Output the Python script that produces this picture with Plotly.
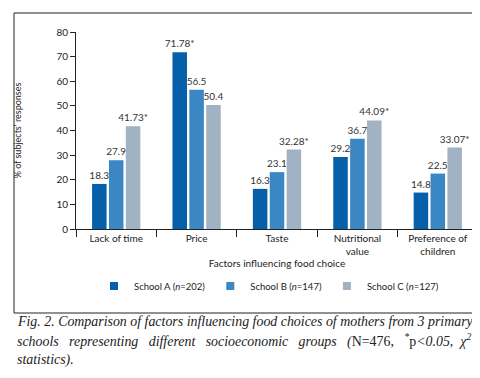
import plotly.graph_objects as go

categories = ["Lack of time", "Price", "Taste", "Nutritional<br>value", "Preference of<br>children"]
school_a = [18.3, 71.78, 16.3, 29.2, 14.8]
school_b = [27.9, 56.5, 23.1, 36.7, 22.5]
school_c = [41.73, 50.4, 32.28, 44.09, 33.07]
sig_a = [False, True, False, False, False]
sig_b = [False, False, False, False, False]
sig_c = [True, False, True, True, True]
series_names = ["School A (<i>n</i>=202)", "School B (<i>n</i>=147)", "School C (<i>n</i>=127)"]
colors = ["#0660a9", "#3b87c3", "#a1b3c3"]
y_ticks = [0, 10, 20, 30, 40, 50, 60, 70, 80]

def labels(vals, sig):
    out = []
    for v, s in zip(vals, sig):
        t = f"{v:g}" if v * 10 == int(round(v * 10)) else f"{v:.2f}"
        out.append(t + ("*" if s else ""))
    return out

FONT = "Lato, Open Sans, sans-serif"
fig = go.Figure()
for vals, sig, name, col in zip([school_a, school_b, school_c], [sig_a, sig_b, sig_c], series_names, colors):
    fig.add_trace(go.Bar(
        x=categories, y=vals, name=name, marker_color=col, marker_line_width=0,
        text=labels(vals, sig), textposition="outside", cliponaxis=False,
        constraintext="none", showlegend=False,
        textfont=dict(size=10, color="#333333", family=FONT),
    ))
# legend entries with small square swatches
for name, col in zip(series_names, colors):
    fig.add_trace(go.Scatter(
        x=[None], y=[None], mode="markers", name=name,
        marker=dict(symbol="square", size=8, color=col), showlegend=True,
    ))

fig.update_layout(
    width=480, height=378,
    margin=dict(l=68, r=10, t=24, b=157),
    paper_bgcolor="white", plot_bgcolor="white",
    barmode="group", bargap=0.37, bargroupgap=0.14,
    font=dict(family=FONT, size=10, color="#222222"),
    showlegend=True,
    legend=dict(orientation="h", x=(86-68)/402, xanchor="left", y=(221-278)/197, yanchor="middle",
                font=dict(size=9.5, family=FONT), itemwidth=30, traceorder="normal"),
    xaxis=dict(
        type="category", tickson="boundaries", ticks="outside", ticklen=7,
        tickcolor="#222222", showline=True, linecolor="#222222", linewidth=1,
        showgrid=False, tickfont=dict(size=10, family=FONT),
        title=dict(text="Factors influencing food choice", font=dict(size=10, family=FONT), standoff=2),
    ),
    yaxis=dict(
        range=[0, 80], tickvals=y_ticks, ticks="outside", ticklen=5, tickcolor="#222222",
        showline=True, linecolor="#222222", linewidth=1, showgrid=False, zeroline=False,
        tickfont=dict(size=10, family=FONT),
        title=dict(text="% of subjects' responses", font=dict(size=9, family=FONT), standoff=33),
    ),
)

# frame around the chart
fig.add_shape(type="rect", xref="paper", yref="paper",
              x0=-62/402, x1=(476-68)/402, y0=(221-305)/197, y1=(221-5)/197,
              line=dict(color="#222222", width=1))

sp = "&nbsp;&nbsp;&nbsp;"
caption_lines = [
    "Fig. 2. Comparison of factors influencing food choices of mothers from 3 primary",
    f"schools{sp}representing{sp}different{sp}socioeconomic{sp}groups{sp}(<span style='font-style:normal'>N=476,</span>{sp}<sup>*</sup><span style='font-style:normal'>p</span>&lt;<i>0.05</i>,&nbsp;&nbsp;χ<sup>2</sup>",
    "statistics).",
]
caption_y = [313, 332, 352]
for line, yp in zip(caption_lines, caption_y):
    fig.add_annotation(text="<i>" + line + "</i>", xref="paper", yref="paper",
                       x=-61/402, y=(221-yp)/197, xanchor="left", yanchor="middle",
                       showarrow=False, font=dict(family="Liberation Serif, DejaVu Serif, serif", size=13.9, color="#222222"))

fig.write_html("out.html")
